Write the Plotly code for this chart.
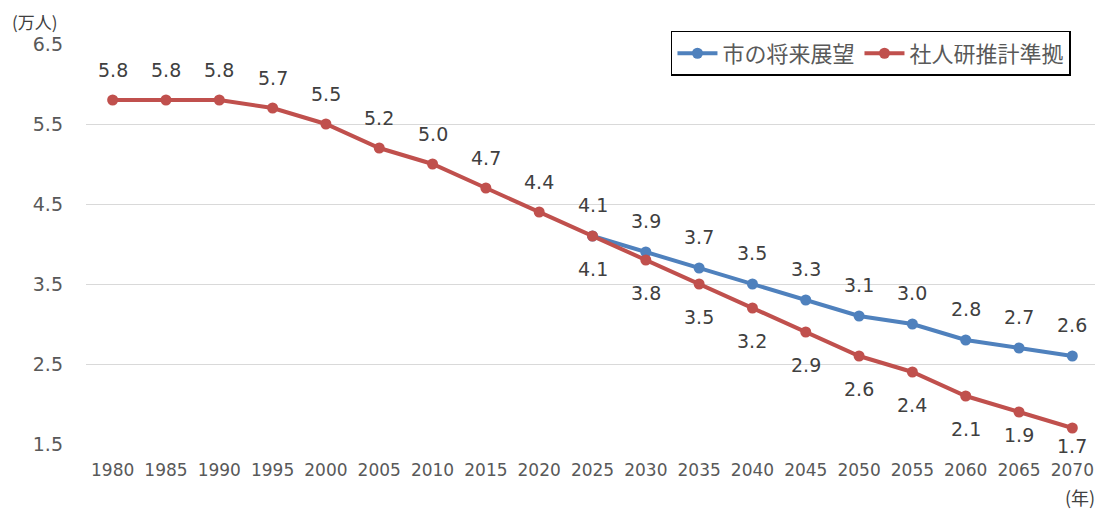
import plotly.graph_objects as go

years = ["1980", "1985", "1990", "1995", "2000", "2005", "2010", "2015", "2020",
         "2025", "2030", "2035", "2040", "2045", "2050", "2055", "2060", "2065", "2070"]
ipss = [5.8, 5.8, 5.8, 5.7, 5.5, 5.2, 5.0, 4.7, 4.4,
        4.1, 3.8, 3.5, 3.2, 2.9, 2.6, 2.4, 2.1, 1.9, 1.7]
city_years = ["2025", "2030", "2035", "2040", "2045", "2050", "2055", "2060", "2065", "2070"]
city = [4.1, 3.9, 3.7, 3.5, 3.3, 3.1, 3.0, 2.8, 2.7, 2.6]
y_ticks = [1.5, 2.5, 3.5, 4.5, 5.5, 6.5]

BLUE = "#4F81BD"
RED = "#C0504D"
CJK = "Noto Sans CJK JP"
NUM = "DejaVu Sans"
TXT = "#404040"

fig = go.Figure()
fig.add_trace(go.Scatter(x=city_years, y=city, mode="lines+markers", name="市の将来展望",
                         line=dict(color=BLUE, width=4), marker=dict(size=11, color=BLUE),
                         cliponaxis=False))
fig.add_trace(go.Scatter(x=years, y=ipss, mode="lines+markers", name="社人研推計準拠",
                         line=dict(color=RED, width=4), marker=dict(size=11, color=RED),
                         cliponaxis=False))

ann = []
for x, v in zip(years, ipss):
    if int(x) <= 2020:
        shift = 30
    else:
        shift = -33
        if x == "2065":
            shift = -23
        if x == "2070":
            shift = -18
    ann.append(dict(x=years.index(x), y=v, text=f"{v:.1f}", showarrow=False, yshift=shift,
                    font=dict(family=NUM, size=19, color=TXT)))
for x, v in zip(city_years, city):
    ann.append(dict(x=years.index(x), y=v, text=f"{v:.1f}", showarrow=False, yshift=31,
                    font=dict(family=NUM, size=19, color=TXT)))

ann.append(dict(xref="paper", yref="paper", x=-0.074, y=1.09, xanchor="left", yanchor="top",
                text="(万人)", showarrow=False, borderpad=0,
                font=dict(family=CJK, size=17, color=TXT)))
ann.append(dict(xref="paper", yref="paper", x=0.998, y=-0.1325, xanchor="right", yanchor="middle",
                text="(年)", showarrow=False, font=dict(family=CJK, size=18, color=TXT)))

fig.update_layout(
    width=1103, height=510,
    margin=dict(l=78, r=12, t=36, b=74, autoexpand=False),
    paper_bgcolor="white", plot_bgcolor="white",
    font=dict(family=CJK, color="#595959"),
    annotations=ann,
    showlegend=True,
    legend=dict(orientation="h", xref="container", yref="container",
                x=0.9637, y=0.955, xanchor="right", yanchor="top",
                bordercolor="black", borderwidth=1.5, bgcolor="white",
                font=dict(family=CJK, size=22, color="#595959"),
                itemwidth=40, tracegroupgap=0),
)
fig.update_xaxes(type="category", categoryorder="array", categoryarray=years,
                 range=[-0.5, 18.5], showgrid=False, showline=False, ticks="",
                 automargin=False, ticklabelstandoff=14,
                 tickfont=dict(family=NUM, size=17, color="#595959"))
fig.update_yaxes(range=[1.5, 6.5], tickvals=y_ticks, ticktext=[f"{t:.1f}" for t in y_ticks],
                 showgrid=True, gridcolor="#D9D9D9", gridwidth=1, zeroline=False,
                 showline=False, ticks="", ticklabelstandoff=22, automargin=False,
                 tickfont=dict(family=NUM, size=19, color="#595959"))

fig.write_html("out.html")
